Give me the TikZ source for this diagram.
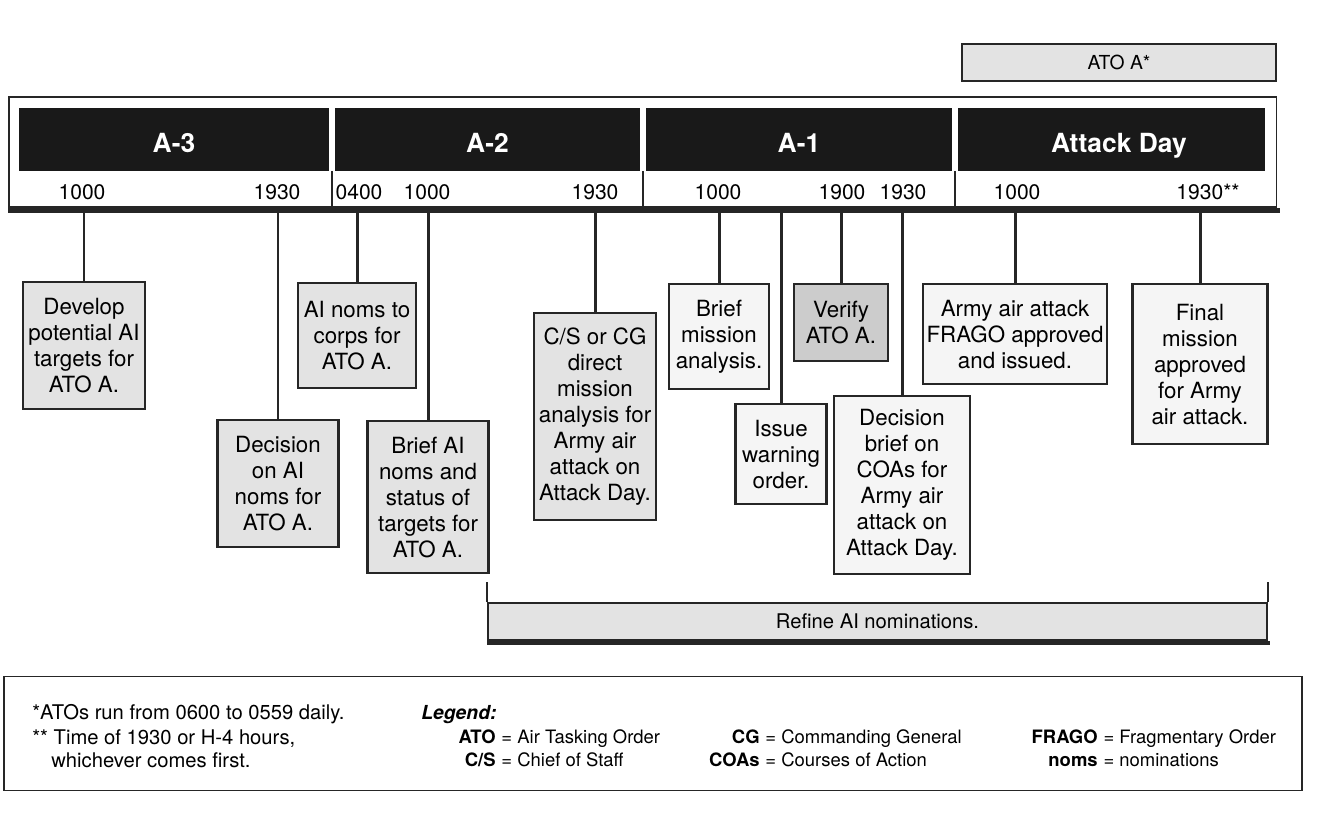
\documentclass[tikz,border=0pt]{standalone}
\usepackage{fontspec}
\setmainfont{TeX Gyre Heros}
\usepackage{tikz}
\usetikzlibrary{calc}
\usepackage{xcolor}

\definecolor{barblack}{gray}{0.1}
\definecolor{boxgray}{gray}{0.89}
\definecolor{boxlight}{gray}{0.96}
\definecolor{boxdark}{gray}{0.8}
\definecolor{edge}{gray}{0.15}

\begin{document}
\begin{tikzpicture}[x=0.2mm,y=-0.2mm,
daybar/.style={fill=barblack,text=white,font=\fontsize{15}{18}\selectfont\bfseries,
  minimum height=12.6mm,inner sep=0pt,text height=5.2mm,text depth=0pt},
clock/.style={font=\fontsize{12}{14}\selectfont,inner sep=0pt},
task/.style={draw=edge,line width=1.3pt,fill=boxgray,align=center,anchor=north,
  inner sep=2pt,font=\fontsize{12.7}{14.8}\selectfont},
link/.style={draw=edge,line width=1.7pt},
note/.style={font=\fontsize{11.5}{14}\selectfont,inner sep=0pt,anchor=base west},
abbr/.style={font=\fontsize{10.5}{12}\selectfont\bfseries,inner sep=0pt,anchor=base east},
defn/.style={font=\fontsize{10.5}{12}\selectfont,inner sep=0pt,anchor=base west}]

\useasboundingbox (0,0) rectangle (1333,819);
\fill[white] (0,0) rectangle (1333,819);

% the four days
\node[draw=edge,line width=0.6pt,fill=white,minimum width=253.4mm,minimum height=22mm,inner sep=0pt] (tl) at (642.5,152) {};
\draw[edge,line width=2.6pt] ([yshift=-0.6mm]tl.south west) -- ([xshift=0.6mm,yshift=-0.6mm]tl.south east);

\node[daybar,minimum width=62mm] (a3) at (174,139.5) {A-3};
\node[daybar,minimum width=61mm] (a2) at (487.5,139.5) {A-2};
\node[daybar,minimum width=61.2mm] (a1) at (799,139.5) {A-1};
\node[daybar,minimum width=61.4mm] (aday) at (1111.5,139.5) {\hspace{3mm}Attack Day};

\foreach \l/\r [count=\i] in {a3/a2,a2/a1,a1/aday}{
  \coordinate (s\i) at ($(\l.south east)!.5!(\r.south west)$);
  \draw[edge,line width=1.3pt] (s\i) -- (s\i |- tl.south);
}

\foreach \x/\t [count=\i] in {82/1000,277/1930,359/0400,427/1000,595/1930,
  718/1000,842/1900,903/1930,1017/1000,1208/1930**}
  \node[clock] (t\i) at (\x,192) {\t};

\node[draw=edge,line width=0.8pt,fill=boxgray,minimum width=62.8mm,minimum height=7.4mm,
  font=\fontsize{11}{13}\selectfont] (atoa) at (1119,62.5) {ATO A*};

% tasks
\node[task,minimum width=24.4mm,minimum height=25.4mm] (dev) at (84,281) {Develop\\potential AI\\targets for\\ATO A.};
\node[task,minimum width=23.6mm,minimum height=21mm] (noms) at (357,282) {AI noms to\\corps for\\ATO A.};
\node[task,minimum width=24.2mm,minimum height=25.4mm] (decai) at (278,419) {Decision\\on AI\\noms for\\ATO A.};
\node[task,minimum width=24.2mm,minimum height=30.4mm] (briefai) at (428,420) {Brief AI\\noms and\\status of\\targets for\\ATO A.};
\node[task,minimum width=24.4mm,minimum height=41.4mm] (direct) at (595,312) {C/S or CG\\direct\\mission\\analysis for\\Army air\\attack on\\Attack Day.};
\node[task,fill=boxlight,minimum width=20mm,minimum height=21mm] (briefmis) at (719,283) {Brief\\mission\\analysis.};
\node[task,fill=boxdark,minimum width=18.8mm,minimum height=15.4mm] (verify) at (841,283) {Verify\\ATO A.};
\node[task,fill=boxlight,minimum width=18.2mm,minimum height=20mm] (issue) at (781,403) {Issue\\warning\\order.};
\node[task,fill=boxlight,minimum width=27.2mm,minimum height=35.6mm] (decbrief) at (902,395) {Decision\\brief on\\COAs for\\Army air\\attack on\\Attack Day.};
\node[task,fill=boxlight,minimum width=36.8mm,minimum height=20mm] (frago) at (1015,283) {Army air attack\\FRAGO approved\\and issued.};
\node[task,fill=boxlight,minimum width=27mm,minimum height=32mm] (final) at (1200,283) {Final\\mission\\approved\\for Army\\air attack.};

\foreach \b in {dev,noms,decai,briefai,direct,briefmis,verify,issue,decbrief,frago,final}
  \draw[link] (\b.north) -- (\b.north |- tl.south);

\node[draw=edge,line width=1.1pt,fill=boxgray,minimum width=155.8mm,minimum height=7.4mm,
  inner sep=0pt,font=\fontsize{11.5}{14}\selectfont] (refine) at (877.5,621.5) {Refine AI nominations.};
\draw[edge,line width=1.1pt] (refine.north west) -- ++(0,-20) (refine.north east) -- ++(0,-20);
\draw[edge,line width=2pt] ([yshift=-0.4mm]refine.south west) -- ([xshift=0.4mm,yshift=-0.4mm]refine.south east);

% notes and legend
\node[draw=edge,line width=0.9pt,minimum width=259.6mm,minimum height=22.8mm,inner sep=0pt] (legend) at (653,733.5) {};
\node[note] (n1) at (32,719) {*ATOs run from 0600 to 0559 daily.};
\node[note] (n2) at (32,744) {** Time of 1930 or H-4 hours,};
\node[note] (n3) at (51,767) {whichever comes first.};
\node[note,font=\fontsize{11}{13}\selectfont\bfseries\itshape] (lg) at (421,719) {Legend:};

\foreach \x/\y/\k/\d [count=\i] in {496/743/ATO/Air Tasking Order,496/766/C\slash S/Chief of Staff,
  760/743/CG/Commanding General,760/766/COAs/Courses of Action,
  1098/743/FRAGO/Fragmentary Order,1098/766/noms/nominations}{
  \node[abbr] (k\i) at (\x,\y) {\k};
  \node[defn] (d\i) at (k\i.base east) {\ = \d};
}
\end{tikzpicture}
\end{document}
